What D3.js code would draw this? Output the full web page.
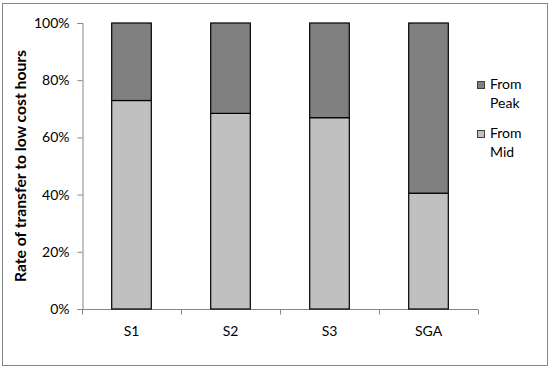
<!DOCTYPE html>
<html><head><meta charset="utf-8">
<script src="https://cdn.jsdelivr.net/npm/d3@7"></script>
<style>body{margin:0;background:#fff;} text{font-family:Lato,"Open Sans",sans-serif;}</style>
</head><body><svg id="c" width="550" height="371"></svg>
<script>
const categories = ["S1","S2","S3","SGA"];
const fromMid = [72.9, 68.4, 66.9, 40.5];
const fromPeak = [27.1, 31.6, 33.1, 59.5];
const yTicks = [0,20,40,60,80,100];
const seriesNames = ["From Mid","From Peak"];
const colors = {"From Mid":"#c0c0c0","From Peak":"#808080"};

const svg = d3.select("#c");
svg.append("rect").attr("x",2.5).attr("y",3.5).attr("width",545).attr("height",362)
  .attr("fill","#fff").attr("stroke","#868686").attr("stroke-width",1);

const x0=82, x1=478, yTop=23, yBot=309;
const x = d3.scaleBand().domain(categories).range([x0,x1]).paddingInner(0.6).paddingOuter(0.3);
const y = d3.scaleLinear().domain([0,100]).range([yBot,yTop]);

const table = categories.map((c,i)=>({cat:c,"From Mid":fromMid[i],"From Peak":fromPeak[i]}));
const stack = d3.stack().keys(seriesNames)(table);

// axes
const yAxis = svg.append("g").attr("transform",`translate(${x0+0.5},0)`)
  .call(d3.axisLeft(y).tickValues(yTicks).tickSize(5).tickPadding(8).tickFormat(d=>d+"%"));
yAxis.selectAll("path,line").attr("stroke","#868686");
yAxis.selectAll("text").attr("font-size",14).attr("fill","#000").attr("font-family","Lato,sans-serif");

const xAxisG = svg.append("g").attr("transform",`translate(0,${yBot+0.5})`);
xAxisG.append("line").attr("x1",x0).attr("x2",x1).attr("stroke","#868686");
xAxisG.selectAll("line.t").data(d3.range(categories.length+1)).join("line")
  .attr("x1",i=>Math.round(x0 + i*(x1-x0)/categories.length)+0.5)
  .attr("x2",i=>Math.round(x0 + i*(x1-x0)/categories.length)+0.5)
  .attr("y1",0).attr("y2",5).attr("stroke","#868686");
xAxisG.selectAll("text").data(categories).join("text")
  .attr("x",c=>x(c)+x.bandwidth()/2).attr("y",26).attr("text-anchor","middle")
  .attr("font-size",14).attr("fill","#000").text(c=>c);

// bars
svg.append("g").selectAll("g").data(stack).join("g")
  .attr("fill",d=>colors[d.key])
  .selectAll("rect").data(d=>d).join("rect")
  .attr("x",d=>x(d.data.cat)).attr("width",x.bandwidth())
  .attr("y",d=>y(d[1])).attr("height",d=>y(d[0])-y(d[1]))
  .attr("stroke","#000").attr("stroke-width",1.2);

// y title
svg.append("text").attr("transform",`translate(26,166) rotate(-90)`)
  .attr("text-anchor","middle").attr("font-size",15.7).attr("font-weight","bold").attr("fill","#000")
  .text("Rate of transfer to low cost hours");

// legend (Peak on top)
const legendItems = [{name:"From Peak",l1:"From",l2:"Peak",y:89},{name:"From Mid",l1:"From",l2:"Mid",y:138}];
const lg = svg.append("g");
legendItems.forEach(it=>{
  lg.append("rect").attr("x",477.5).attr("y",it.y-7.5).attr("width",7).attr("height",7)
    .attr("fill",colors[it.name]).attr("stroke","#404040").attr("stroke-width",1);
  lg.append("text").attr("x",490).attr("y",it.y).attr("font-size",14).attr("fill","#000").text(it.l1);
  lg.append("text").attr("x",490).attr("y",it.y+19).attr("font-size",14).attr("fill","#000").text(it.l2);
});
</script></body></html>
